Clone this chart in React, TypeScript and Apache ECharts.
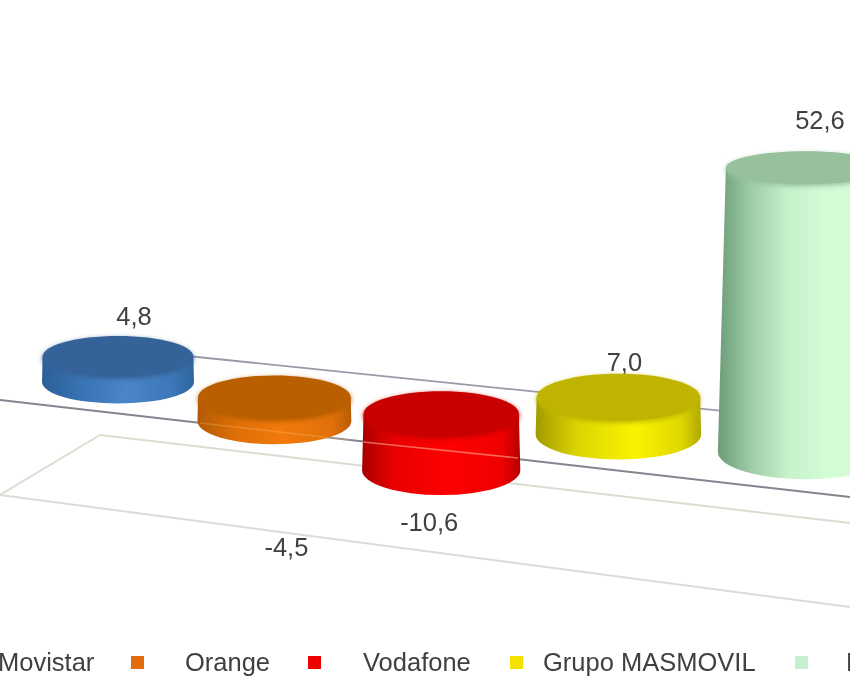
import React, { useEffect, useRef } from "react";
import * as echarts from "echarts";

const categories = ["Movistar", "Orange", "Vodafone", "Grupo MASMOVIL", "Resto"];
const values = [4.8, -4.5, -10.6, 7.0, 52.6];

const FONT = "'Liberation Sans', Arial, sans-serif";
const TEXT = "#404040";
const legendColors = ["#2f6fb5", "#e36c0a", "#ee0000", "#f5e000", "#c6efce"];
const bodyStops: [number, string][][] = [
  [[0, "#2c5f98"], [0.3, "#3b76b6"], [0.55, "#4a86c9"], [0.85, "#3d78b8"], [1, "#2f659f"]],
  [[0, "#b35a05"], [0.25, "#de6f08"], [0.55, "#f27a0a"], [0.88, "#e0700a"], [1, "#b85c06"]],
  [[0, "#a80000"], [0.2, "#e80000"], [0.55, "#ff0000"], [0.88, "#f00000"], [1, "#b80000"]],
  [[0, "#a29a00"], [0.25, "#dcd400"], [0.6, "#fbf300"], [0.88, "#e0d800"], [1, "#b0a800"]],
  [[0, "#6c9c78"], [0.2, "#a0cfa9"], [0.4, "#c6f2cc"], [0.6, "#d2fbd6"], [1, "#d2fbd6"]],
];
const topColors = ["#366499", "#b95f06", "#c80000", "#c0b400", "#97c09d"];
const legendText = [-2, 185, 363, 543, 846];
const legendMarks = [-47, 131, 308, 510, 795];
const labelShift: [number, number][] = [
  [16, -41],
  [12, 126],
  [-12, 52],
  [6, -35],
  [14, -48],
];
const baseNudge = [0, 0, 0, 3, 2];

const GRID_LEFT = 118;
const STEP = 172;
const TILT = 0.099;

function cylinder(params: any, api: any) {
  const i = api.value(0);
  const v = api.value(1);
  const [rawX, zeroY] = api.coord([i, 0]);
  const [, valueY] = api.coord([i, v]);
  const u = (rawX - GRID_LEFT) / STEP;
  const x = rawX - 5.2 * u * (4 - u);
  const tilt = TILT * (x - GRID_LEFT) + baseNudge[i];
  const grow = 1 + 0.02 * Math.pow(u / 4, 4);
  const h = (valueY - zeroY) * grow;
  const topY = Math.min(zeroY, zeroY + h) + tilt;
  const baseY = Math.max(zeroY, zeroY + h) + tilt;
  const dxBase = x - GRID_LEFT;
  const rxBase = 76 + 0.000022 * dxBase * dxBase + 0.0025 * dxBase;
  const rxAt = (y: number) => rxBase * (1 - (baseY - y) * 0.00032);
  const ryAt = (y: number, rx: number) => rx * (0.205 + (y - 167) * 0.00036);
  const rt = rxAt(topY);
  const rb = rxAt(baseY);
  const ryt = ryAt(topY, rt);
  const ryb = ryAt(baseY, rb);
  const d =
    `M${x - rt} ${topY}L${x - rb} ${baseY}` +
    `A${rb} ${ryb} 0 0 0 ${x + rb} ${baseY}L${x + rt} ${topY}Z`;
  const side = new echarts.graphic.LinearGradient(
    0,
    0,
    1,
    0,
    bodyStops[i].map(([offset, color]) => ({ offset, color }))
  );
  const [dx, dy] = labelShift[i];
  const labelY = v >= 0 ? topY + dy : baseY + dy;
  return {
    type: "group",
    children: [
      {
        type: "text",
        style: {
          x: x + dx,
          y: labelY,
          text: v.toFixed(1).replace(".", ","),
          fill: TEXT,
          fontSize: 25.5,
          fontFamily: FONT,
          textAlign: "center",
          textVerticalAlign: "middle",
        },
      },
      { type: "path", shape: { pathData: d }, style: { fill: side } },
      {
        type: "ellipse",
        shape: { cx: x, cy: topY, rx: rt, ry: ryt },
        style: { fill: topColors[i], shadowBlur: 5, shadowColor: topColors[i], shadowOffsetY: 2 },
      },
    ],
  };
}

const line = (x1: number, y1: number, x2: number, y2: number, stroke: string, lineWidth: number, z = 1) => ({
  type: "line",
  z,
  silent: true,
  shape: { x1, y1, x2, y2 },
  style: { stroke, lineWidth },
});

export default function App() {
  const ref = useRef<HTMLDivElement>(null);
  useEffect(() => {
    document.body.style.margin = "0";
    const chart = echarts.init(ref.current!, null, { renderer: "svg" });
    const legend: any[] = [];
    categories.forEach((name, i) => {
      legend.push({
        type: "rect",
        z: 1,
        shape: { x: legendMarks[i], y: 656, width: 13, height: 13 },
        style: { fill: legendColors[i] },
      });
      legend.push({
        type: "text",
        z: 1,
        style: {
          x: legendText[i],
          y: 662,
          text: name,
          fill: TEXT,
          fontSize: 25.5,
          fontFamily: FONT,
          textAlign: "left",
          textVerticalAlign: "middle",
        },
      });
    });
    chart.setOption({
      animation: false,
      backgroundColor: "#ffffff",
      grid: { left: GRID_LEFT, width: STEP * 4, top: 64, height: 424 },
      xAxis: {
        type: "category",
        data: categories,
        boundaryGap: false,
        show: false,
      },
      yAxis: { type: "value", min: -20, max: 60, show: false },
      graphic: [
        line(100, 347, 850, 424, "#9a9aa6", 1.8),
        line(0, 400, 850, 497, "#85858f", 2),
        line(100, 435, 850, 523, "#dcdcd2", 2),
        line(100, 435, 0, 495, "#dedcd0", 2),
        line(0, 495, 850, 607, "#dcdcd6", 2),
        line(363, 442, 518, 458, "rgba(255,205,175,0.5)", 1.6, 10),
        line(200, 423, 350, 440, "rgba(255,205,130,0.25)", 1.6, 10),
        ...legend,
      ],
      series: [
        {
          type: "custom",
          z: 5,
          clip: false,
          renderItem: cylinder,
          data: values.map((v, i) => [i, v]),
          encode: { x: 0, y: 1 },
        },
      ],
    });
    return () => chart.dispose();
  }, []);
  return <div ref={ref} style={{ width: 850, height: 700, filter: "blur(0.5px)" }} />;
}
